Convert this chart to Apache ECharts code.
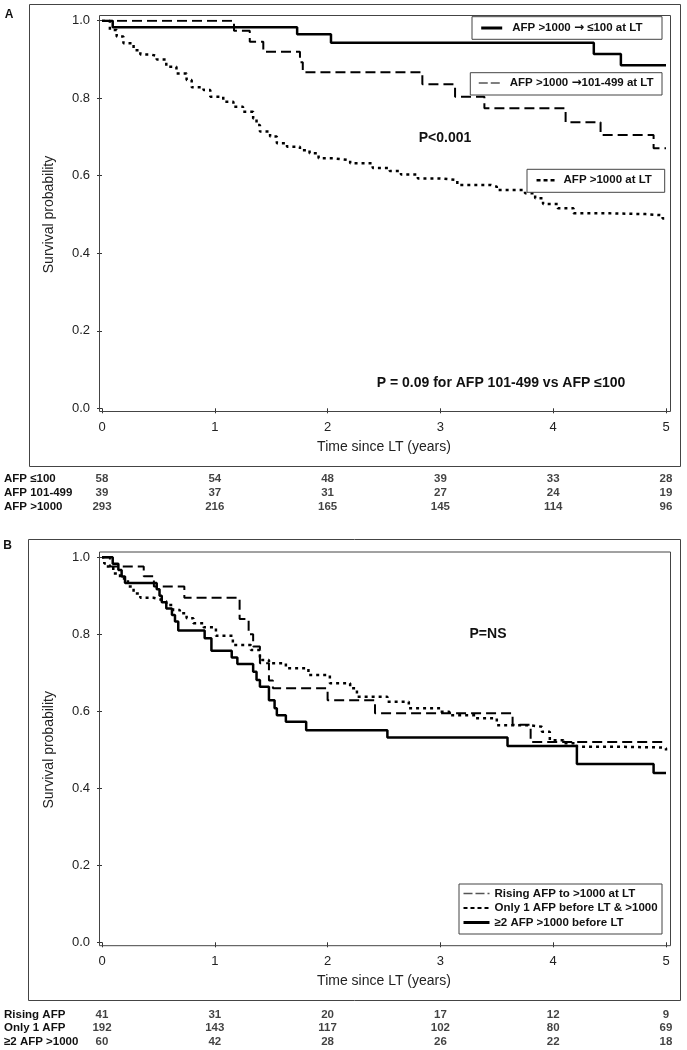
<!DOCTYPE html>
<html><head><meta charset="utf-8">
<script src="https://cdn.jsdelivr.net/npm/echarts@6/dist/echarts.min.js"></script>
<style>html,body{margin:0;padding:0;background:#fff}#c{width:687px;height:1050px}</style>
</head><body><div id="c"></div><script>
// ---------- data ----------
const xTicks = [0, 1, 2, 3, 4, 5];

// Panel A
const namesA = ['AFP >1000 \u2192 \u2264100 at LT', 'AFP >1000 \u2192101-499 at LT', 'AFP >1000 at LT'];
const tA1 = [0, 0.095, 1.73, 2.03, 4.36, 4.6, 5.0];
const sA1 = [1, 0.983, 0.965, 0.943, 0.914, 0.885, 0.885];
const tA2 = [0, 1.17, 1.31, 1.43, 1.755, 1.78, 2.84, 3.13, 3.39, 4.11, 4.42, 4.89, 5.0];
const sA2 = [1, 0.974, 0.946, 0.92, 0.893, 0.867, 0.836, 0.804, 0.774, 0.738, 0.705, 0.671, 0.671];
const tA3 = [0, 0.07, 0.13, 0.19, 0.28, 0.34, 0.43, 0.485, 0.57, 0.66, 0.75, 0.795, 0.90, 0.96, 1.075, 1.165, 1.25, 1.34, 1.37, 1.40, 1.49, 1.55, 1.64, 1.755, 1.84, 1.92, 2.05, 2.2, 2.4, 2.55, 2.65, 2.8, 3.0, 3.15, 3.45, 3.5, 3.75, 3.84, 3.91, 4.04, 4.18, 4.5, 4.82, 4.97, 5.0];
const sA3 = [1, 0.976, 0.959, 0.942, 0.924, 0.913, 0.909, 0.900, 0.881, 0.864, 0.847, 0.828, 0.821, 0.804, 0.791, 0.778, 0.765, 0.748, 0.731, 0.714, 0.701, 0.684, 0.675, 0.666, 0.658, 0.645, 0.64, 0.632, 0.62, 0.612, 0.603, 0.593, 0.589, 0.576, 0.572, 0.563, 0.555, 0.542, 0.527, 0.516, 0.503, 0.501, 0.498, 0.49, 0.488];
const riskRowsA = ['AFP \u2264100', 'AFP 101-499', 'AFP >1000'];
const riskA = [
  [58, 54, 48, 39, 33, 28],
  [39, 37, 31, 27, 24, 19],
  [293, 216, 165, 145, 114, 96]
];

// Panel B
const namesB = ['Rising AFP to >1000 at LT', 'Only 1 AFP before LT & >1000', '\u22652 AFP >1000 before LT'];
const tB1 = [0, 0.07, 0.37, 0.46, 0.73, 1.22, 1.30, 1.34, 1.40, 1.48, 1.515, 2.0, 2.42, 3.64, 3.80, 5.0];
const sB1 = [1, 0.976, 0.951, 0.924, 0.895, 0.84, 0.80, 0.768, 0.725, 0.68, 0.66, 0.629, 0.595, 0.565, 0.52, 0.52];
const tB2 = [0, 0.02, 0.04, 0.1, 0.16, 0.23, 0.28, 0.34, 0.455, 0.51, 0.57, 0.63, 0.69, 0.75, 0.81, 0.90, 1.01, 1.16, 1.32, 1.40, 1.48, 1.63, 1.83, 2.02, 2.2, 2.26, 2.53, 2.72, 3.0, 3.08, 3.31, 3.5, 3.78, 3.9, 3.97, 4.09, 4.21, 4.56, 4.97, 5.0];
const sB2 = [1, 0.984, 0.976, 0.958, 0.945, 0.924, 0.906, 0.895, 0.891, 0.886, 0.876, 0.863, 0.855, 0.842, 0.829, 0.818, 0.796, 0.772, 0.759, 0.733, 0.725, 0.712, 0.694, 0.673, 0.66, 0.638, 0.625, 0.608, 0.599, 0.59, 0.582, 0.564, 0.56, 0.547, 0.525, 0.517, 0.508, 0.506, 0.504, 0.498];
const tB3 = [0, 0.095, 0.145, 0.174, 0.204, 0.485, 0.51, 0.53, 0.57, 0.62, 0.647, 0.676, 0.91, 0.97, 1.15, 1.2, 1.34, 1.37, 1.40, 1.48, 1.53, 1.55, 1.63, 1.81, 2.53, 3.595, 4.21, 4.89, 5.0];
const sB3 = [1, 0.983, 0.967, 0.95, 0.933, 0.917, 0.9, 0.883, 0.867, 0.85, 0.833, 0.81, 0.79, 0.757, 0.74, 0.723, 0.703, 0.681, 0.664, 0.629, 0.608, 0.59, 0.573, 0.551, 0.532, 0.51, 0.463, 0.44, 0.44];
const riskRowsB = ['Rising AFP', 'Only 1 AFP', '\u22652 AFP >1000'];
const riskB = [
  [41, 31, 20, 17, 12, 9],
  [192, 143, 117, 102, 80, 69],
  [60, 42, 28, 26, 22, 18]
];

// ---------- helpers ----------
const FONT = '"Liberation Sans", Arial, sans-serif';
const zip = (t, s) => t.map((v, i) => [v, s[i]]);
const riskData = (rows, vals) => {
  const out = [];
  rows.forEach((r, ri) => xTicks.forEach((x, xi) => out.push([x, r, vals[ri][xi]])));
  return out;
};
const SOLID = { color: '#000', width: 2.5, type: 'solid' };
const DASH = { color: '#000', width: 2, type: [10, 5] };
const DOT = { color: '#000', width: 2.5, type: [3, 4] };

function plotY(grid) {
  return {
    gridIndex: grid, type: 'value', min: 0, max: 1, interval: 0.2, offset: 3,
    axisLine: { show: false },
    axisTick: { show: true, length: 5, lineStyle: { color: '#333', width: 1 } },
    axisLabel: { formatter: v => v.toFixed(1), fontSize: 13, color: '#222', margin: 9, fontFamily: FONT },
    splitLine: { show: false },
    name: 'Survival probability', nameLocation: 'middle', nameGap: 43,
    nameTextStyle: { fontSize: 14, color: '#222', fontFamily: FONT }
  };
}
function plotX(grid) {
  return {
    gridIndex: grid, type: 'value', min: 0, max: 5, interval: 1, offset: 3.4,
    axisLine: { show: false },
    axisTick: { show: true, length: 5, lineStyle: { color: '#333', width: 1 } },
    axisLabel: { fontSize: 13, color: '#222', margin: 9, fontFamily: FONT },
    splitLine: { show: false },
    name: 'Time since LT (years)', nameLocation: 'middle', nameGap: 28,
    nameTextStyle: { fontSize: 14, color: '#222', fontFamily: FONT }
  };
}
function tableX(grid) {
  return { gridIndex: grid, type: 'value', min: 0, max: 5, show: false };
}
function tableY(grid, rows) {
  return {
    gridIndex: grid, type: 'category', data: rows, inverse: true,
    axisLine: { show: false }, axisTick: { show: false }, splitLine: { show: false },
    axisLabel: { interval: 0, align: 'left', margin: 98, fontSize: 11.5, fontWeight: 'bold', color: '#111', fontFamily: FONT }
  };
}
function kmSeries(name, xi, data, ls) {
  return { name, type: 'line', step: 'end', xAxisIndex: xi, yAxisIndex: xi, data, symbol: 'none',
    showSymbol: false, lineStyle: ls, itemStyle: { color: '#000' }, animation: false, z: 2 };
}
function riskSeries(xi, data) {
  return { type: 'scatter', xAxisIndex: xi, yAxisIndex: xi, data, symbolSize: 1,
    itemStyle: { color: 'rgba(0,0,0,0)' }, animation: false, silent: true,
    labelLayout: { hideOverlap: false },
    label: { show: true, position: 'inside', formatter: p => String(p.value[2]), fontSize: 11.5,
      fontWeight: 'bold', color: '#111', fontFamily: FONT } };
}
const hideSym = { color: 'rgba(0,0,0,0)', borderWidth: 0, opacity: 0 };
function legTxt(pad) {
  return { fontSize: 11.5, fontWeight: 'bold', color: '#111', fontFamily: FONT, padding: [0, 0, 0, pad],
    rich: { a: { fontSize: 12, fontWeight: 'bold', color: '#111', fontFamily: '"DejaVu Sans", sans-serif', padding: [0, 0, 0, 0] } } };
}
const legFmt = n => n.replace('\u2192', '{a|\u2192}');
function rect(x, y, w, h, fill, z) {
  return { type: 'rect', z: z, silent: true, shape: { x, y, width: w, height: h },
    style: { fill: fill, stroke: '#444', lineWidth: 1 } };
}
function txt(x, y, text, font, align) {
  return { type: 'text', z: 5, silent: true, x, y,
    style: { text, font, fill: '#111', align: align || 'center', verticalAlign: 'middle' } };
}

const chart = echarts.init(document.getElementById('c'), null, { renderer: 'canvas' });
chart.setOption({
  animation: false,
  backgroundColor: '#fff',
  grid: [
    { left: 102, top: 20.7, width: 564, height: 387.6 },
    { left: 102, top: 472, width: 564, height: 42 },
    { left: 102, top: 557.3, width: 564, height: 385 },
    { left: 102, top: 1007.5, width: 564, height: 41 }
  ],
  xAxis: [plotX(0), tableX(1), plotX(2), tableX(3)],
  yAxis: [plotY(0), tableY(1, riskRowsA), plotY(2), tableY(3, riskRowsB)],
  legend: [
    { left: 479.7, top: 22, padding: 0, itemWidth: 21, itemHeight: 14, selectedMode: false, formatter: legFmt,
      data: [{ name: namesA[0], itemStyle: hideSym, lineStyle: { width: 3, type: 'solid', color: '#000' } }], textStyle: legTxt(5) },
    { left: 478, top: 77, padding: 0, itemWidth: 22, itemHeight: 14, selectedMode: false, formatter: legFmt,
      data: [{ name: namesA[1], itemStyle: hideSym, lineStyle: { width: 1.5, type: [9, 3], color: '#555' } }], textStyle: legTxt(4) },
    { left: 535.3, top: 174.3, padding: 0, itemWidth: 20, itemHeight: 14, selectedMode: false,
      data: [{ name: namesA[2], itemStyle: hideSym, lineStyle: { width: 2.5, type: [4, 3], color: '#000' } }], textStyle: legTxt(2) },
    { left: 462, top: 887.5, padding: 0, orient: 'vertical', itemWidth: 26, itemHeight: 14, itemGap: 2.5,
      selectedMode: false,
      data: [
        { name: namesB[0], itemStyle: hideSym, lineStyle: { width: 1.5, type: [9, 3], color: '#555' } },
        { name: namesB[1], itemStyle: hideSym, lineStyle: { width: 2, type: [4, 3], color: '#000' } },
        { name: namesB[2], itemStyle: hideSym, lineStyle: { width: 3, type: 'solid', color: '#000' } }
      ], textStyle: legTxt(0) }
  ],
  graphic: [
    rect(29.5, 4.5, 651, 462, 'none', 0),
    rect(99.5, 15.5, 571, 396, 'none', 1),
    rect(28.5, 539.5, 652, 461, 'none', 0),
    rect(99.5, 552, 571, 393.7, 'none', 1),
    rect(472, 16.7, 190, 22.6, '#fff', 3),
    rect(470.3, 72.7, 191.7, 22.3, '#fff', 3),
    rect(527, 169.3, 137.7, 23, '#fff', 3),
    rect(459, 884, 203, 50, '#fff', 3),
    txt(9, 15, 'A', 'bold 12px ' + FONT),
    txt(7.5, 546, 'B', 'bold 12px ' + FONT),
    txt(445, 138, 'P<0.001', 'bold 14px ' + FONT),
    txt(501, 383, 'P = 0.09 for AFP 101-499 vs AFP \u2264100', 'bold 14px ' + FONT),
    txt(488, 634, 'P=NS', 'bold 14px ' + FONT)
  ],
  series: [
    kmSeries(namesA[0], 0, zip(tA1, sA1), SOLID),
    kmSeries(namesA[1], 0, zip(tA2, sA2), DASH),
    kmSeries(namesA[2], 0, zip(tA3, sA3), DOT),
    riskSeries(1, riskData(riskRowsA, riskA)),
    kmSeries(namesB[0], 2, zip(tB1, sB1), DASH),
    kmSeries(namesB[1], 2, zip(tB2, sB2), DOT),
    kmSeries(namesB[2], 2, zip(tB3, sB3), SOLID),
    riskSeries(3, riskData(riskRowsB, riskB))
  ]
});
</script></body></html>
